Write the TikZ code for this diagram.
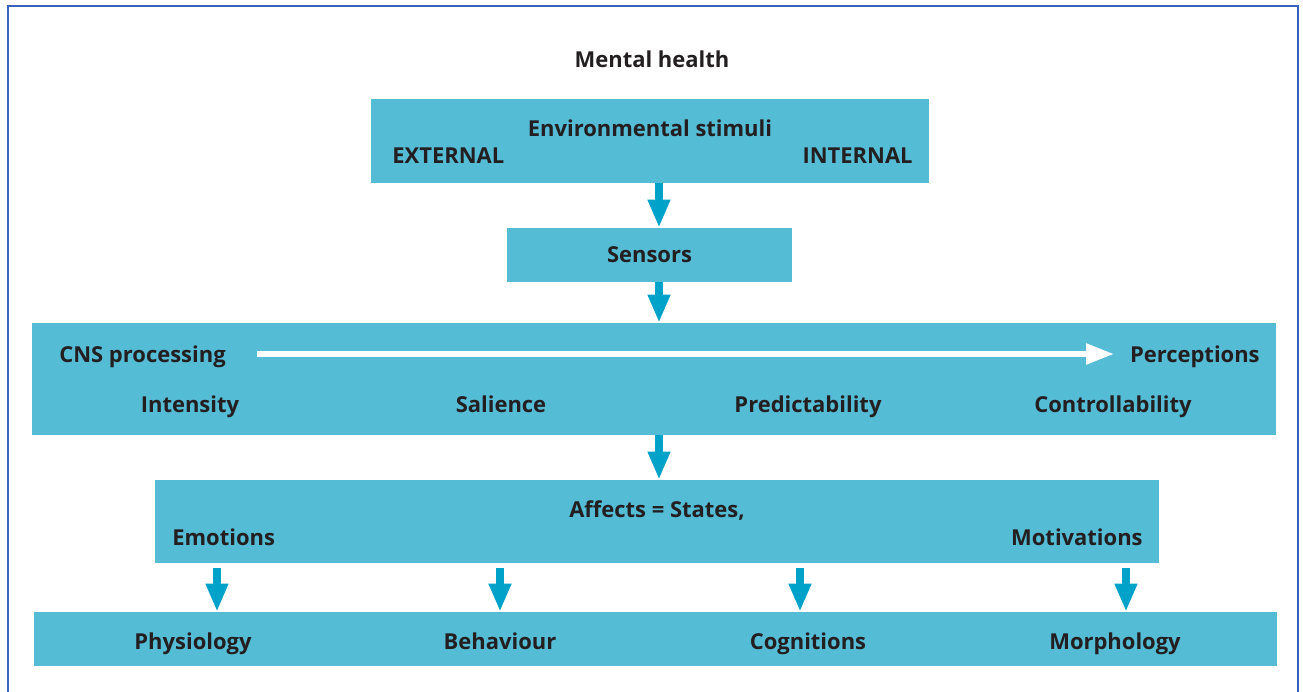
\documentclass[tikz,border=0pt]{standalone}
\usepackage{fontspec}
\setmainfont{Open Sans}
\usetikzlibrary{arrows.meta}

\definecolor{boxblue}{HTML}{55BCD6}
\definecolor{arrowblue}{HTML}{00A2C9}
\definecolor{framblue}{HTML}{3A62BE}
\definecolor{ink}{HTML}{231F20}

\begin{document}
\begin{tikzpicture}[x=0.02cm, y=-0.02cm,
    every node/.style = {font=\fontsize{12.5}{15}\selectfont\bfseries, text=ink, text depth=0pt},
    box/.style = {fill=boxblue, draw=none, inner sep=0pt},
    lbl/.style = {inner sep=0pt},
    arr/.style = {draw=arrowblue, line width=0.16cm, -{Triangle[length=0.56cm, width=0.42cm]}},
    warr/.style = {draw=white, line width=0.11cm, -{Triangle[length=0.56cm, width=0.4cm]}}]
    \useasboundingbox (0,0) rectangle (1303,692);
    % outer frame, open at the bottom
    \draw[framblue, line width=0.05cm] (8,692) -- (8,6) -- (1298,6) -- (1298,692);

    \node[lbl] at (652,59) (title) {Mental health};

    % boxes
    \node[box, minimum width=11.16cm, minimum height=1.68cm] at (650,141) (env) {};
    \node[box, minimum width=5.7cm, minimum height=1.08cm] at (649.5,255) (sens) {Sensors};
    \node[box, minimum width=24.88cm, minimum height=2.24cm] at (654,379) (cns) {};
    \node[box, minimum width=20.08cm, minimum height=1.66cm] at (657,521.5) (aff) {};
    \node[box, minimum width=24.86cm, minimum height=1.08cm] at (655.5,639) (out) {};

    % environmental stimuli
    \node[lbl] at (650,128) (envt) {Environmental stimuli};
    \node[lbl, anchor=west] at (392,156) (ext) {EXTERNAL};
    \node[lbl, anchor=east] at (913,156) (int) {INTERNAL};

    % CNS processing
    \node[lbl, anchor=west] at (59,354) (cnsl) {CNS processing};
    \node[lbl, anchor=east] at (1260,354) (perc) {Perceptions};
    \node[lbl] at (190,404) (inten) {Intensity};
    \node[lbl] at (501,404) (sal) {Salience};
    \node[lbl] at (808,404) (pred) {Predictability};
    \node[lbl] at (1113,404) (contr) {Controllability};
    \coordinate (ws) at (257,354);
    \coordinate (we) at (1114,354);
    \draw[warr] (ws) -- (we);

    % affects
    \node[lbl] at (657,509) (afft) {Affects = States,};
    \node[lbl, anchor=west] at (172,537) (emo) {Emotions};
    \node[lbl, anchor=east] at (1143,537) (mot) {Motivations};

    % outputs
    \node[lbl] at (193,641) (phys) {Physiology};
    \node[lbl] at (500,641) (beh) {Behaviour};
    \node[lbl] at (808,641) (cog) {Cognitions};
    \node[lbl] at (1115,641) (morph) {Morphology};

    % arrows
    \coordinate (mid) at (659,0);
    \draw[arr] (env.south -| mid) -- (sens.north -| mid);
    \draw[arr] (sens.south -| mid) -- (cns.north -| mid);
    \draw[arr] (cns.south -| mid) -- (aff.north -| mid);
    \coordinate (o1) at (217,0);
    \coordinate (o2) at (500,0);
    \coordinate (o3) at (800,0);
    \coordinate (o4) at (1126,0);
    \foreach \c in {o1,o2,o3,o4}
        \draw[arr, shorten <=0.1cm] (aff.south -| \c) -- (out.north -| \c);
\end{tikzpicture}
\end{document}
